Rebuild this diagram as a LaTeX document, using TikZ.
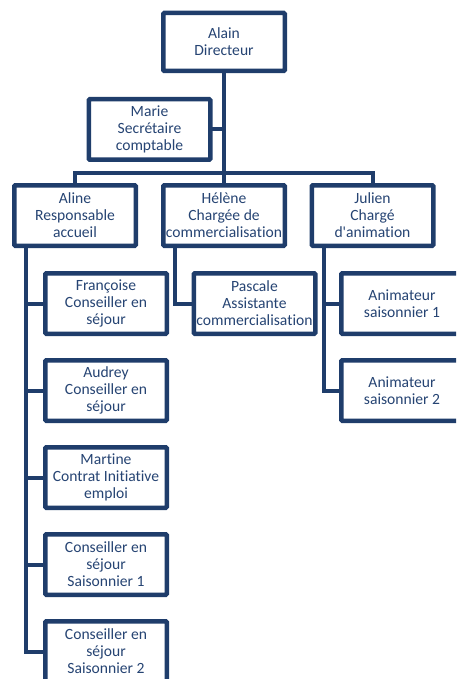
\documentclass[tikz,border=0pt]{standalone}
\usepackage{fontspec}
\setmainfont{Carlito}[Ligatures={TeX,NoCommon}]
\usetikzlibrary{positioning}
\definecolor{orgline}{RGB}{31,61,107}
\definecolor{orgtext}{RGB}{38,68,115}

\begin{document}
\begin{tikzpicture}[x=1pt, y=-1pt,
  box/.style={draw=orgline, line width=4.5pt, rounded corners=1pt, fill=white, text=orgtext,
    minimum width=121.5pt, minimum height=60.5pt, inner sep=0pt, outer sep=0pt,
    align=center, font=\fontsize{15.6}{17}\selectfont},
  link/.style={draw=orgline, line width=4pt}]
\path[use as bounding box, clip] (0,0) rectangle (456,679);

\node[box, minimum height=58pt] (ala) at (224,42) {Alain\\Directeur};
\node[box] (mar) at (149.5,129.5) {Marie\\Secrétaire\\comptable};
\node[box] (hel) at (224,215.5) {Hélène\\Chargée de\\commercialisation};
\node[box, left=27.5pt of hel] (ali) {Aline\\Responsable\\accueil};
\node[box, right=27pt of hel] (jul) {Julien\\Chargé\\d\textquotesingle animation};

% service accueil
\node[box, below=27.5pt of ali, xshift=31pt] (fra) {Françoise\\Conseiller en\\séjour};
\node[box, below=26.5pt of fra] (aud) {Audrey\\Conseiller en\\séjour};
\node[box, below=26.5pt of aud] (mrt) {Martine\\Contrat Initiative\\emploi};
\node[box, below=26.5pt of mrt] (cs1) {Conseiller en\\séjour\\Saisonnier 1};
\node[box, below=26.5pt of cs1] (cs2) {Conseiller en\\séjour\\Saisonnier 2};

% commercialisation
\node[box, below=27.5pt of hel, xshift=30.5pt] (pas) {Pascale\\Assistante\\commercialisation};

% animation
\node[box, below=27.5pt of jul, xshift=29.5pt] (an1) {Animateur\\saisonnier 1};
\node[box, below=26.5pt of an1] (an2) {Animateur\\saisonnier 2};

\coordinate (bar) at (224,173);
\draw[link] (ala.south) -- (hel.north);
\draw[link] (mar.east) -- (mar.east -| ala.south);
\draw[link] (ali.north) |- (bar) -| (jul.north);

\foreach \n in {fra,aud,mrt,cs1,cs2}
  \draw[link] ([xshift=12pt]ali.south west) |- (\n.west);
\draw[link] ([xshift=12pt]hel.south west) |- (pas.west);
\foreach \n in {an1,an2}
  \draw[link] ([xshift=12pt]jul.south west) |- (\n.west);
\end{tikzpicture}
\end{document}
